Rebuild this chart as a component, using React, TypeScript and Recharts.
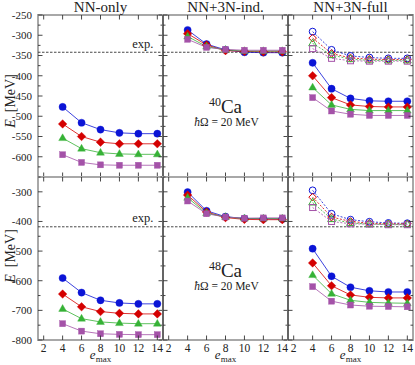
import React from 'react';
import { LineChart, Line, XAxis, YAxis, ReferenceLine, ReferenceArea } from 'recharts';

// ---------- data ----------
const emax = [4, 6, 8, 10, 12, 14];

// 40Ca, NN-only
const nn40Blue = [-477, -516, -533, -541, -543, -543];
const nn40Red = [-519, -550, -564, -568, -568, -568];
const nn40Green = [-554, -580, -590, -593, -594, -594];
const nn40Purple = [-595, -614, -620, -621, -621, -621];
// 40Ca, NN+3N-ind.
const ind40Blue = [-287, -322, -336, -342, -343, -343];
const ind40Red = [-296, -324, -338, -340, -341, -341];
const ind40Green = [-303, -328, -336, -339, -339, -339];
const ind40Purple = [-310, -330, -335, -337, -337, -337];
// 40Ca, NN+3N-full (open = dashed, filled = solid)
const full40BlueOpen = [-291, -336, -351, -355, -357, -357];
const full40RedOpen = [-307, -345, -356, -359, -360, -360];
const full40GreenOpen = [-320, -349, -359, -362, -362, -362];
const full40PurpleOpen = [-333, -357, -363, -364, -364, -364];
const full40Blue = [-368, -432, -456, -462, -463, -463];
const full40Red = [-400, -454, -472, -476, -477, -477];
const full40Green = [-429, -472, -483, -486, -486, -486];
const full40Purple = [-454, -487, -495, -498, -498, -498];

// 48Ca, NN-only
const nn48Blue = [-591, -640, -666, -675, -678, -678];
const nn48Red = [-645, -688, -704, -710, -712, -712];
const nn48Green = [-695, -728, -739, -743, -745, -745];
const nn48Purple = [-745, -770, -779, -781, -782, -782];
// 48Ca, NN+3N-ind.
const ind48Blue = [-301, -364, -384, -390, -391, -392];
const ind48Red = [-311, -368, -387, -393, -394, -394];
const ind48Green = [-320, -372, -385, -390, -390, -390];
const ind48Purple = [-331, -374, -385, -389, -388, -388];
// 48Ca, NN+3N-full
const full48BlueOpen = [-295, -374, -394, -401, -405, -406];
const full48RedOpen = [-318, -385, -400, -406, -408, -408];
const full48GreenOpen = [-336, -392, -405, -409, -410, -410];
const full48PurpleOpen = [-353, -400, -408, -409, -411, -411];
const full48Blue = [-492, -585, -622, -634, -638, -638];
const full48Red = [-540, -617, -648, -656, -658, -658];
const full48Green = [-581, -644, -666, -673, -675, -676];
const full48Purple = [-620, -669, -682, -686, -687, -688];

const exp40 = -342;
const exp48 = -418;

const xTicks = [2, 4, 6, 8, 10, 12, 14];
const topYTicks = [-650, -625, -600, -575, -550, -525, -500, -475, -450, -425, -400, -375, -350, -325, -300, -275, -250];
const topYLabels = [-600, -550, -500, -450, -400, -350, -300, -250];
const bottomYTicks = [-800, -750, -700, -650, -600, -550, -500, -450, -400, -350, -300, -250];
const bottomYLabels = [-800, -700, -600, -500, -400, -300];

const columnTitles = ['NN-only', 'NN+3N-ind.', 'NN+3N-full'];

// ---------- styling ----------
const FONT = "'Liberation Serif', 'DejaVu Serif', serif";
const BLUE = '#0b14d6';
const RED = '#d40000';
const GREEN = '#36b236';
const PURPLE = '#a452a8';

const X_DOMAIN: [number, number] = [1.4, 14.6];
const COL_X = [38, 163, 288];
const PW = 125;
const ROW_Y = [15, 177];
const ROW_H = [162, 163];

type Shape = 'circle' | 'diamond' | 'triangle' | 'square';
interface Series { values: number[]; color: string; shape: Shape; open?: boolean }

const four = (b: number[], r: number[], g: number[], p: number[], open = false): Series[] => [
  { values: b, color: BLUE, shape: 'circle', open },
  { values: r, color: RED, shape: 'diamond', open },
  { values: g, color: GREEN, shape: 'triangle', open },
  { values: p, color: PURPLE, shape: 'square', open },
];

function Marker({ cx, cy, shape, color, open }: { cx: number; cy: number; shape: Shape; color: string; open?: boolean }) {
  if (cx == null || cy == null || isNaN(cx) || isNaN(cy)) return null;
  const fill = open ? 'none' : color;
  const sw = open ? 1 : 0.4;
  switch (shape) {
    case 'circle':
      return <circle cx={cx} cy={cy} r={open ? 3.4 : 3.6} fill={fill} stroke={color} strokeWidth={sw} />;
    case 'diamond': {
      const r = open ? 3.8 : 4.3;
      return <polygon points={`${cx},${cy - r} ${cx + r},${cy} ${cx},${cy + r} ${cx - r},${cy}`} fill={fill} stroke={color} strokeWidth={sw} />;
    }
    case 'triangle':
      return <polygon points={`${cx},${cy - 4.3} ${cx + 3.9},${cy + 2.5} ${cx - 3.9},${cy + 2.5}`} fill={fill} stroke={color} strokeWidth={sw} />;
    default:
      return <rect x={cx - 3} y={cy - 3} width={6} height={6} fill={fill} stroke={color} strokeWidth={sw} />;
  }
}

function Panel({ col, row, series, yDomain, yTicks, yLabels, yMajor, exp }: {
  col: number; row: number; series: Series[]; yDomain: [number, number]; yTicks: number[]; yLabels: number[]; yMajor: number; exp: number;
}) {
  const ML = 40, MT = 10, MR = 3, MB = 26;
  const H = ROW_H[row];
  const data = emax.map((e, i) => {
    const o: any = { e };
    series.forEach((s, k) => { o['s' + k] = s.values[i]; });
    return o;
  });
  const showY = col === 0;
  const showX = row === 1;
  const yTick = (p: any) => {
    const { x, y, payload } = p;
    const v = payload.value;
    const major = v % yMajor === 0;
    const len = major ? 4.5 : 2.5;
    return (
      <g>
        <line x1={x} x2={x + len} y1={y} y2={y} stroke="#333" strokeWidth={0.9} />
        <line x1={x + PW} x2={x + PW - len} y1={y} y2={y} stroke="#333" strokeWidth={0.9} />
        {showY && yLabels.includes(v) && (
          <text x={x - 6} y={y} dy="0.36em" textAnchor="end" fontSize={11} fontFamily={FONT} fill="#222">{v}</text>
        )}
      </g>
    );
  };
  const xTick = (p: any) => {
    const { x, y, payload } = p;
    return (
      <g>
        <line x1={x} x2={x} y1={y} y2={y - 4.5} stroke="#333" strokeWidth={0.9} />
        <line x1={x} x2={x} y1={y - H} y2={y - H + 4.5} stroke="#333" strokeWidth={0.9} />
        {showX && (
          <text x={x} y={y + 12} textAnchor="middle" fontSize={11.5} fontFamily={FONT} fill="#222">{payload.value}</text>
        )}
      </g>
    );
  };
  const expLabel = (p: any) => {
    const vb = p.viewBox || {};
    return (
      <text x={vb.x + vb.width - 9.5} y={vb.y - 4.5} textAnchor="end" fontSize={12.5} fontFamily={FONT} fill="#222">exp.</text>
    );
  };
  return (
    <div style={{ position: 'absolute', left: COL_X[col] - ML, top: ROW_Y[row] - MT }}>
      <LineChart width={ML + PW + MR} height={MT + H + MB} data={data} margin={{ top: MT, right: MR, left: 0, bottom: 0 }}>
        <XAxis dataKey="e" type="number" domain={X_DOMAIN} ticks={xTicks} interval={0} tickSize={0} tickMargin={0}
          tickLine={false} axisLine={false} height={MB} tick={xTick} allowDataOverflow />
        <YAxis type="number" domain={yDomain} ticks={yTicks} interval={0} width={ML} tickSize={0} tickMargin={0}
          tickLine={false} axisLine={false} tick={yTick} allowDataOverflow />
        <ReferenceArea x1={X_DOMAIN[0]} x2={X_DOMAIN[1]} y1={yDomain[0]} y2={yDomain[1]} fill="none" fillOpacity={0}
          stroke="#a8a8a8" strokeWidth={2} ifOverflow="visible" />
        {col > 0 && <ReferenceLine x={X_DOMAIN[0]} stroke="#222" strokeWidth={1} ifOverflow="visible" />}
        <ReferenceLine y={exp} stroke="#333" strokeWidth={0.9} strokeDasharray="2.5 1.5" label={col === 0 ? expLabel : undefined} />
        {series.map((s, k) => (
          <Line key={k} dataKey={'s' + k} type="linear" stroke={s.color} strokeWidth={1} strokeOpacity={0.8}
            strokeDasharray={s.open ? '2 1.6' : undefined} isAnimationActive={false} activeDot={false}
            dot={(p: any) => <Marker key={'m' + k + '-' + p.index} cx={p.cx} cy={p.cy} shape={s.shape} color={s.color} open={s.open} />} />
        ))}
      </LineChart>
    </div>
  );
}

export default function App() {
  const topDom: [number, number] = [-650, -250];
  const botDom: [number, number] = [-800, -250];
  const panels = [
    { col: 0, row: 0, series: four(nn40Blue, nn40Red, nn40Green, nn40Purple) },
    { col: 1, row: 0, series: four(ind40Blue, ind40Red, ind40Green, ind40Purple) },
    { col: 2, row: 0, series: [...four(full40BlueOpen, full40RedOpen, full40GreenOpen, full40PurpleOpen, true), ...four(full40Blue, full40Red, full40Green, full40Purple)] },
    { col: 0, row: 1, series: four(nn48Blue, nn48Red, nn48Green, nn48Purple) },
    { col: 1, row: 1, series: four(ind48Blue, ind48Red, ind48Green, ind48Purple) },
    { col: 2, row: 1, series: [...four(full48BlueOpen, full48RedOpen, full48GreenOpen, full48PurpleOpen, true), ...four(full48Blue, full48Red, full48Green, full48Purple)] },
  ];
  return (
    <div style={{ position: 'absolute', left: 0, top: 0, width: 415, height: 365, background: '#fff', overflow: 'hidden' }}>
      {panels.map((p, i) => (
        <Panel key={i} col={p.col} row={p.row} series={p.series}
          yDomain={p.row === 0 ? topDom : botDom}
          yTicks={p.row === 0 ? topYTicks : bottomYTicks}
          yLabels={p.row === 0 ? topYLabels : bottomYLabels}
          yMajor={p.row === 0 ? 50 : 100}
          exp={p.row === 0 ? exp40 : exp48} />
      ))}
      <svg width={415} height={365} style={{ position: 'absolute', left: 0, top: 0, pointerEvents: 'none' }} fontFamily={FONT} fill="#222">
        {columnTitles.map((t, i) => (
          <text key={t} x={COL_X[i] + PW / 2} y={12} textAnchor="middle" fontSize={15}>{t}</text>
        ))}
        {[101, 256].map((cy, i) => (
          <text key={'E' + i} transform={`translate(15,${cy}) rotate(-90)`} textAnchor="middle" fontSize={14}>
            <tspan fontStyle="italic">E</tspan><tspan dx={7}>[MeV]</tspan>
          </text>
        ))}
        {COL_X.map((x, i) => (
          <text key={'em' + i} x={x + PW / 2} y={359} textAnchor="middle" fontSize={13}>
            <tspan fontStyle="italic">e</tspan><tspan fontSize={9} dy={2.5}>max</tspan>
          </text>
        ))}
        {[{ a: '40', y: 113, y2: 125.5 }, { a: '48', y: 277, y2: 289.5 }].map((n) => (
          <g key={n.a}>
            <text x={COL_X[1] + PW / 2} y={n.y} textAnchor="middle">
              <tspan fontSize={12} dy={-7}>{n.a}</tspan><tspan fontSize={19} dy={7}>Ca</tspan>
            </text>
            <text x={COL_X[1] + PW / 2 + 1} y={n.y2} textAnchor="middle" fontSize={11.5}>
              <tspan fontStyle="italic">ħ</tspan>Ω = 20 MeV
            </text>
          </g>
        ))}
      </svg>
    </div>
  );
}
